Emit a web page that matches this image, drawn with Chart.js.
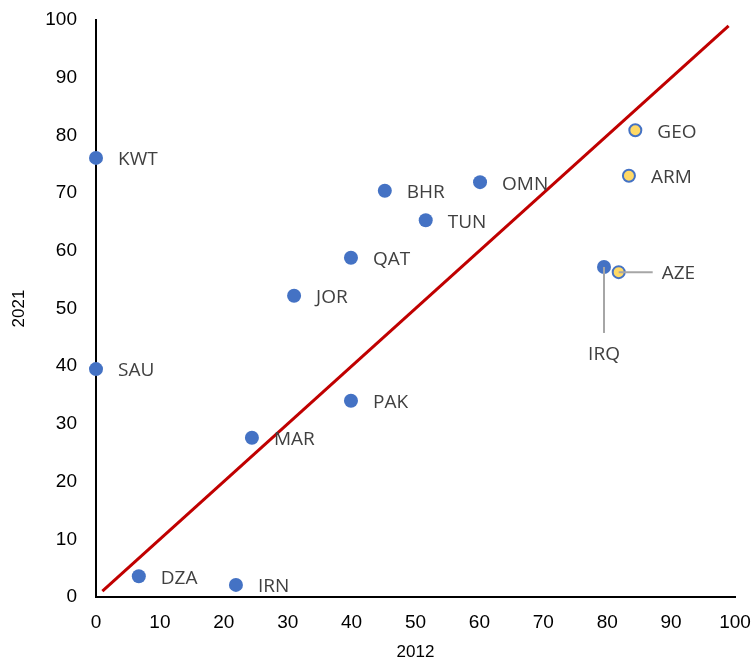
<!DOCTYPE html>
<html>
<head>
<meta charset="utf-8">
<script src="https://cdn.jsdelivr.net/npm/chart.js@4/dist/chart.umd.min.js"></script>
<style>
  html, body { margin: 0; padding: 0; background: #fff; }
  #wrap { width: 753px; height: 663px; }
</style>
</head>
<body>
<div id="wrap"><canvas id="chart" width="753" height="663"></canvas></div>
<script>
// values (x = 2012, y = 2021)
const blueCodes = ['KWT', 'SAU', 'DZA', 'IRN', 'MAR', 'JOR', 'PAK', 'QAT', 'BHR', 'TUN', 'OMN', 'IRQ'];
const blue2012 = [0, 0, 6.7, 21.9, 24.4, 31.0, 39.9, 39.9, 45.2, 51.6, 60.1, 79.5];
const blue2021 = [76.1, 39.5, 3.6, 2.1, 27.6, 52.2, 34.0, 58.8, 70.4, 65.3, 71.9, 57.2];

const yellowCodes = ['GEO', 'ARM', 'AZE'];
const yellow2012 = [84.4, 83.4, 81.8];
const yellow2021 = [80.9, 73.0, 56.3];

const diagonal = [1, 99];
const tickValues = [0, 10, 20, 30, 40, 50, 60, 70, 80, 90, 100];

const toPoints = (xs, ys, codes) => xs.map((x, i) => ({ x: x, y: ys[i], code: codes[i] }));

// labels that need a leader line instead of sitting to the right
const leaders = {
  IRQ: { dx: 0, dy: 66, tx: 0, ty: 88, align: 'center' },
  AZE: { dx: 34, dy: 0, tx: 43, ty: 1, align: 'left' }
};

const labelPlugin = {
  id: 'pointLabels',
  afterDatasetsDraw(chart) {
    const ctx = chart.ctx;
    ctx.save();
    ctx.font = '19px "Open Sans"';
    ctx.fillStyle = '#404040';
    ctx.textBaseline = 'middle';
    [0, 1].forEach(di => {
      const meta = chart.getDatasetMeta(di);
      meta.data.forEach((el, i) => {
        const code = chart.data.datasets[di].data[i].code;
        const lead = leaders[code];
        if (lead) {
          ctx.strokeStyle = '#A6A6A6';
          ctx.lineWidth = 2;
          ctx.beginPath();
          ctx.moveTo(el.x, el.y);
          ctx.lineTo(el.x + lead.dx, el.y + lead.dy);
          ctx.stroke();
          ctx.textAlign = lead.align;
          ctx.fillText(code, el.x + lead.tx, el.y + lead.ty);
        } else {
          ctx.textAlign = 'left';
          ctx.fillText(code, el.x + 22, el.y + 2);
        }
      });
    });
    ctx.restore();
  }
};

const axisFont = { family: '"Liberation Sans", Arial, sans-serif', size: 19 };
const titleFont = { family: '"Liberation Sans", Arial, sans-serif', size: 17 };

const noEdgePadding = s => {
  s.paddingTop = 0;
  s.paddingBottom = 0;
  s.paddingLeft = 0;
  s.paddingRight = 0;
};

new Chart(document.getElementById('chart'), {
  type: 'scatter',
  data: {
    datasets: [
      {
        label: 'blue',
        data: toPoints(blue2012, blue2021, blueCodes),
        backgroundColor: '#4472C4',
        borderColor: '#4472C4',
        borderWidth: 0,
        pointRadius: 7,
        clip: false,
        order: 1
      },
      {
        label: 'yellow',
        data: toPoints(yellow2012, yellow2021, yellowCodes),
        backgroundColor: '#FFD966',
        borderColor: '#4472C4',
        borderWidth: 2,
        pointRadius: 6,
        clip: false,
        order: 0
      },
      {
        type: 'line',
        label: 'diagonal',
        data: diagonal.map(v => ({ x: v, y: v })),
        borderColor: '#C00000',
        borderWidth: 3,
        pointRadius: 0,
        fill: false,
        clip: false,
        order: 3
      }
    ]
  },
  options: {
    responsive: false,
    animation: false,
    events: [],
    layout: { padding: { top: 20, right: 18, left: 0, bottom: 0 } },
    plugins: { legend: { display: false }, tooltip: { enabled: false } },
    scales: {
      x: {
        type: 'linear',
        min: 0,
        max: 100,
        afterBuildTicks: s => { s.ticks = tickValues.map(v => ({ value: v })); },
        afterFit: s => { s.height = 66; noEdgePadding(s); },
        grid: { display: false, drawTicks: false },
        border: { display: true, color: '#000', width: 2 },
        ticks: { color: '#000', font: axisFont, padding: 14, maxRotation: 0 },
        title: { display: true, text: '2012', color: '#000', font: titleFont, padding: { top: 0, bottom: 0 } }
      },
      y: {
        type: 'linear',
        min: 0,
        max: 100,
        afterBuildTicks: s => { s.ticks = tickValues.map(v => ({ value: v })); },
        afterFit: s => { s.width = 96; noEdgePadding(s); },
        grid: { display: false, drawTicks: false },
        border: { display: true, color: '#000', width: 2 },
        ticks: { color: '#000', font: axisFont, padding: 19 },
        title: { display: true, text: '2021', color: '#000', font: titleFont, padding: { top: 9, bottom: 0 } }
      }
    }
  },
  plugins: [labelPlugin]
});
</script>
</body>
</html>
